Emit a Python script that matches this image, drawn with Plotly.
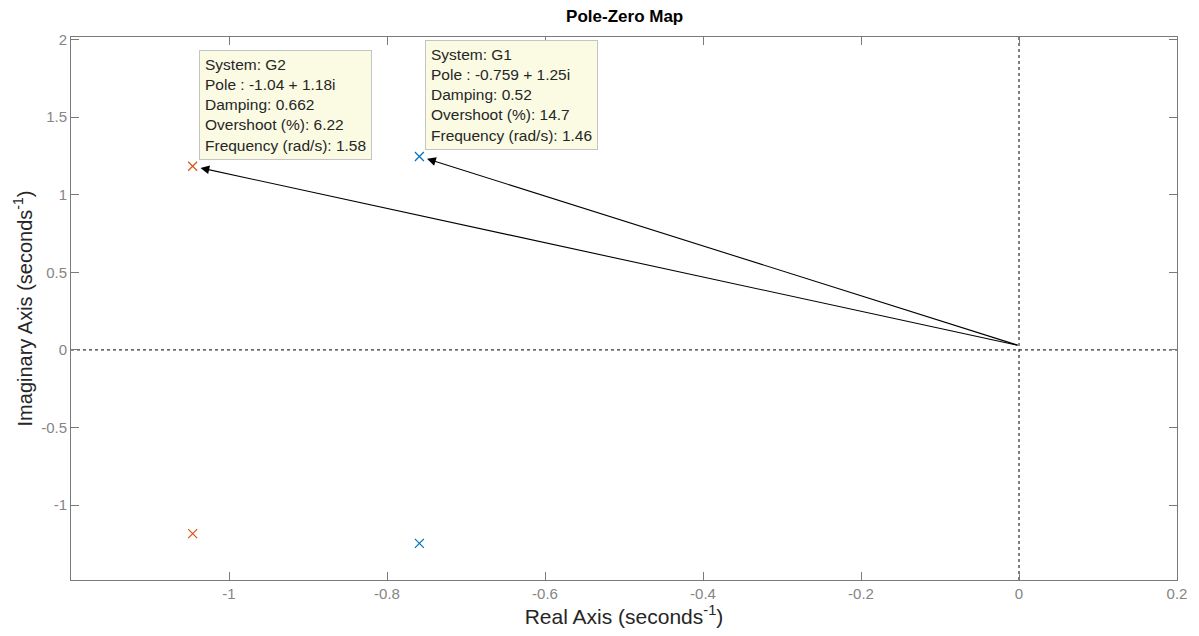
import plotly.graph_objects as go

# ---- data ----
systems = ["G1", "G2"]
pole_real = [-0.759, -1.046]
pole_imag = [1.247, 1.184]
series_colors = ["#0072BD", "#D95319"]
tip_lines = [
    ["System: G1", "Pole : -0.759 + 1.25i", "Damping: 0.52",
     "Overshoot (%): 14.7", "Frequency (rad/s): 1.46"],
    ["System: G2", "Pole : -1.04 + 1.18i", "Damping: 0.662",
     "Overshoot (%): 6.22", "Frequency (rad/s): 1.58"],
]
arrow_tail_x = 0.0
arrow_tail_y = 0.028
x_tick_vals = [-1, -0.8, -0.6, -0.4, -0.2, 0, 0.2]
x_tick_text = ["-1", "-0.8", "-0.6", "-0.4", "-0.2", "0", "0.2"]
y_tick_vals = [-1, -0.5, 0, 0.5, 1, 1.5, 2]
y_tick_text = ["-1", "-0.5", "0", "0.5", "1", "1.5", "2"]
x_range = [-1.2, 0.2]
y_range = [-1.483, 2.017]

FONT = "Liberation Sans, Arial, sans-serif"
AXIS_GRAY = "#7a7a7a"

fig = go.Figure()

for name, re_, im_, col in zip(systems, pole_real, pole_imag, series_colors):
    fig.add_trace(go.Scatter(
        x=[re_, re_], y=[im_, -im_], mode="markers", name=name,
        marker=dict(symbol="x-thin", size=9, color=col,
                    line=dict(color=col, width=1.2)),
        showlegend=False, hoverinfo="skip"))

# dotted zero lines
fig.add_shape(type="line", xref="x", yref="paper", x0=0, x1=0, y0=0, y1=1,
              line=dict(color="black", width=1, dash="dot"), layer="below")
fig.add_shape(type="line", xref="paper", yref="y", x0=0, x1=1, y0=0, y1=0,
              line=dict(color="black", width=1, dash="dot"), layer="below")

# arrows from near origin to the poles
for re_, im_ in zip(pole_real, pole_imag):
    fig.add_annotation(
        x=re_, y=im_, ax=arrow_tail_x, ay=arrow_tail_y,
        xref="x", yref="y", axref="x", ayref="y",
        text="", showarrow=True, arrowhead=2, arrowsize=1.6, arrowwidth=1.1,
        arrowcolor="black", standoff=8)

# datatip boxes
for lines, re_, im_ in zip(tip_lines, pole_real, pole_imag):
    fig.add_annotation(
        x=re_, y=im_, xref="x", yref="y", xanchor="left", yanchor="bottom",
        xshift=6, yshift=6, showarrow=False, align="left",
        text="<br>".join(lines),
        font=dict(family=FONT, size=15.5, color="#262626"),
        bgcolor="#FBFBE4", bordercolor="#C4C4C4", borderwidth=1, borderpad=5)

axis_common = dict(
    showgrid=False, zeroline=False, showline=True, linecolor=AXIS_GRAY,
    linewidth=1, mirror="ticks", ticks="inside", ticklen=8, tickwidth=1,
    tickcolor=AXIS_GRAY, tickfont=dict(family=FONT, size=15, color="#858585"))

fig.update_xaxes(range=x_range, tickvals=x_tick_vals, ticktext=x_tick_text,
                 title=dict(text="Real Axis (seconds<sup>-1</sup>)", standoff=6,
                            font=dict(family=FONT, size=21, color="#262626")),
                 **axis_common)
fig.update_yaxes(range=y_range, tickvals=y_tick_vals, ticktext=y_tick_text,
                 title=dict(text="Imaginary Axis (seconds<sup>-1</sup>)", standoff=3,
                            font=dict(family=FONT, size=20, color="#262626")),
                 **axis_common)

fig.update_layout(
    width=1199, height=636,
    margin=dict(l=71, r=20, t=37, b=56),
    paper_bgcolor="white", plot_bgcolor="white",
    title=dict(text="<b>Pole-Zero Map</b>", x=0.521, xanchor="center",
               y=0.974, yanchor="middle",
               font=dict(family=FONT, size=17, color="black")),
)

fig.write_html("out.html", config={"displayModeBar": False},
               post_script="document.body.style.margin='0';")
